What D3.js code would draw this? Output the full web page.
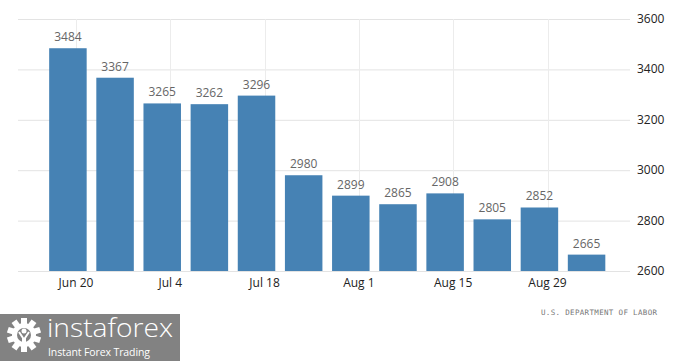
<!DOCTYPE html>
<html><head><meta charset="utf-8">
<script src="https://cdn.jsdelivr.net/npm/d3@7"></script>
<style>body{margin:0;background:#fff;} svg{display:block;}</style>
</head><body>
<svg id="c" width="700" height="361"></svg>
<script>
const weekEnding = ["2022-06-18","2022-06-25","2022-07-02","2022-07-09","2022-07-16","2022-07-23","2022-07-30","2022-08-06","2022-08-13","2022-08-20","2022-08-27","2022-09-03"];
const values = [3484,3367,3265,3262,3296,2980,2899,2865,2908,2805,2852,2665];
const yTicks = [2600,2800,3000,3200,3400,3600];
const xTickDates = ["2022-06-20","2022-07-04","2022-07-18","2022-08-01","2022-08-15","2022-08-29"];
const xTickLabels = ["Jun 20","Jul 4","Jul 18","Aug 1","Aug 15","Aug 29"];
const sourceText = "U.S. DEPARTMENT OF LABOR";

const parse = d3.utcParse("%Y-%m-%d");
const svg = d3.select("#c");

const x = d3.scaleUtc()
  .domain([parse("2022-06-20"), parse("2022-08-29")])
  .range([76, 547.5]);
const pxPerDay = (x(parse("2022-06-21")) - x(parse("2022-06-20")));
const barW = 37.5;
const y = d3.scaleLinear().domain([2600, 3600]).range([271, 19]);

// horizontal grid
svg.append("g").selectAll("line").data(yTicks).join("line")
  .attr("x1", 18).attr("x2", 630)
  .attr("y1", d => y(d)+0.5).attr("y2", d => y(d)+0.5)
  .attr("stroke", "#e3e3e3").attr("stroke-width", 1);
// vertical grid
svg.append("g").selectAll("line").data(xTickDates).join("line")
  .attr("x1", d => Math.round(x(parse(d)))+0.5).attr("x2", d => Math.round(x(parse(d)))+0.5)
  .attr("y1", 19).attr("y2", 271)
  .attr("stroke", "#ececec").attr("stroke-width", 1);

// bars
const centerX = d => x(parse(d)) + 0.8*pxPerDay;
svg.append("g").selectAll("rect").data(values).join("rect")
  .attr("x", (d,i) => centerX(weekEnding[i]) - barW/2)
  .attr("width", barW)
  .attr("y", d => y(d))
  .attr("height", d => y(2600) - y(d))
  .attr("fill", "#4682b4");

// value labels
svg.append("g").selectAll("text").data(values).join("text")
  .attr("x", (d,i) => centerX(weekEnding[i]))
  .attr("y", d => y(d) - 7)
  .attr("text-anchor", "middle")
  .attr("font-family", "'Open Sans', sans-serif")
  .attr("font-size", 12)
  .attr("fill", "#666")
  .text(d => d);

// y axis labels
svg.append("g").selectAll("text").data(yTicks).join("text")
  .attr("x", 637).attr("y", d => y(d) + 4)
  .attr("font-family", "'Open Sans', sans-serif")
  .attr("font-size", 12)
  .attr("fill", "#222")
  .text(d => d);

// x axis labels
svg.append("g").selectAll("text").data(xTickDates).join("text")
  .attr("x", d => x(parse(d))).attr("y", 287)
  .attr("text-anchor", "middle")
  .attr("font-family", "'Open Sans', sans-serif")
  .attr("font-size", 12)
  .attr("fill", "#222")
  .text((d,i) => xTickLabels[i]);

// source
svg.append("text").attr("x", 541).attr("y", 315)
  .attr("font-family", "'DejaVu Sans Mono', monospace")
  .attr("font-size", 7.5).attr("textLength", 116).attr("lengthAdjust", "spacing")
  .attr("fill", "#777").text(sourceText);

// logo
const logo = svg.append("g");
logo.append("rect").attr("x", 0).attr("y", 314).attr("width", 180).attr("height", 47).attr("fill", "#828282");
const gear = logo.append("g").attr("transform", "translate(24,335)");
d3.range(10).forEach(i => {
  gear.append("rect").attr("x", -3).attr("y", -17).attr("width", 6).attr("height", 8)
    .attr("fill", "#fff").attr("transform", `rotate(${i*36})`);
});
gear.append("circle").attr("r", 12).attr("fill", "#fff");
gear.append("circle").attr("r", 7).attr("fill", "#828282");
gear.append("circle").attr("cx", 0).attr("cy", -4).attr("r", 2.5).attr("fill", "#fff");
gear.append("path").attr("d", "M-5,-3 L-1,3 L-1,14 L1,14 L1,3 L5,-3").attr("stroke", "#fff").attr("stroke-width", 2).attr("fill", "none");
logo.append("text").attr("x", 47).attr("y", 337)
  .attr("font-family", "'Open Sans', sans-serif").attr("font-weight", 300)
  .attr("font-size", 26).attr("fill", "#fff").attr("textLength", 126).attr("lengthAdjust", "spacingAndGlyphs").text("instaforex");
logo.append("text").attr("x", 48).attr("y", 356)
  .attr("font-family", "'Open Sans', sans-serif")
  .attr("font-size", 10.5).attr("fill", "#fff").attr("textLength", 102).text("Instant Forex Trading");
</script>
</body></html>
